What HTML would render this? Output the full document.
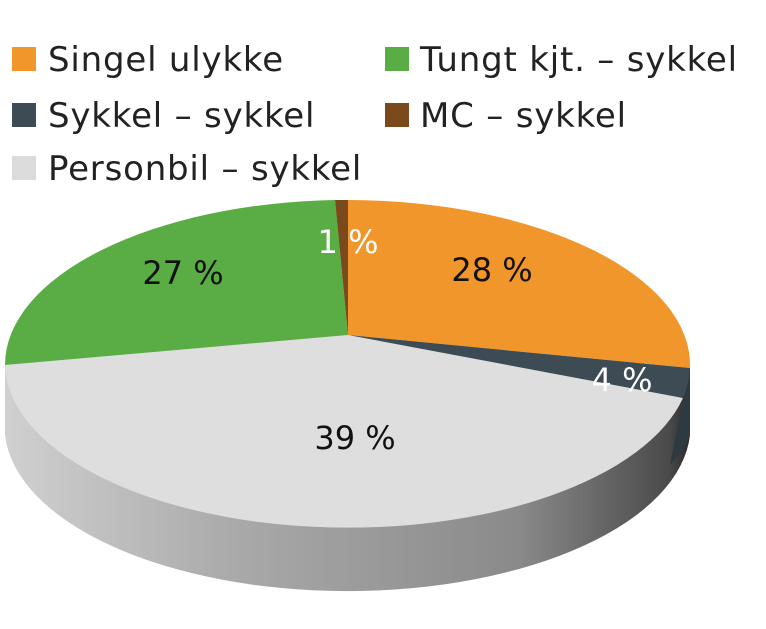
<!DOCTYPE html>
<html><head><meta charset="utf-8"><style>
html,body{margin:0;padding:0;background:#fff;width:766px;height:629px;overflow:hidden}
svg{display:block}
text{font-family:"DejaVu Sans","Liberation Sans",sans-serif}
</style></head><body>
<svg width="766" height="629" viewBox="0 0 766 629">
<defs>
<linearGradient id="side" x1="0" x2="1" y1="0" y2="0">
<stop offset="0" stop-color="#d0d0d0"/>
<stop offset="0.35" stop-color="#a8a8a8"/>
<stop offset="0.75" stop-color="#8a8a8a"/>
<stop offset="0.97" stop-color="#4a4a4a"/>
<stop offset="1" stop-color="#2a2a2a"/>
</linearGradient>
</defs>
<!-- legend -->
<g font-size="34" fill="#222" letter-spacing="0.8">
<rect x="12" y="47" width="24" height="24" fill="#f0962a"/>
<text x="48" y="71">Singel ulykke</text>
<rect x="385" y="47" width="24" height="24" fill="#5aac44"/>
<text x="420" y="71">Tungt kjt. – sykkel</text>
<rect x="12" y="103" width="24" height="24" fill="#3d4b55"/>
<text x="48" y="127">Sykkel – sykkel</text>
<rect x="385" y="103" width="24" height="24" fill="#7a4a1c"/>
<text x="420" y="127">MC – sykkel</text>
<rect x="12" y="156" width="24" height="24" fill="#dcdcdc"/>
<text x="48" y="180">Personbil – sykkel</text>
</g>
<!-- side -->
<path d="M5,365 A343,165 0 0 0 690,365 L690,435 A343,165 0 0 1 5,435 Z" fill="url(#side)"/>
<!-- top slices -->
<path d="M348,335 L683,398 A343,165 0 0 1 5,365 Z" fill="#dedede"/>
<path d="M348,335 L5,365 A343,165 0 0 1 335,200 Z" fill="#5aac44"/>
<path d="M348,335 L335,200 A343,165 0 0 1 348,200 Z" fill="#7a4a1c"/>
<path d="M348,335 L348,200 A343,165 0 0 1 690,368 Z" fill="#f0962a"/>
<path d="M348,335 L690,368 A343,165 0 0 1 683,398 Z" fill="#3d4b55"/>
<path d="M683,398 A343,165 0 0 0 690,368 L690,435 A343,165 0 0 1 670,465 Z" fill="#2e3a42"/>
<!-- labels -->
<text x="183" y="284" font-size="32" fill="#111" text-anchor="middle">27 %</text>
<text x="348" y="253" font-size="32" fill="#fff" text-anchor="middle">1 %</text>
<text x="492" y="281" font-size="32" fill="#111" text-anchor="middle">28 %</text>
<text x="622" y="391" font-size="32" fill="#fff" text-anchor="middle">4 %</text>
<text x="355" y="449" font-size="32" fill="#111" text-anchor="middle">39 %</text>
</svg>
</body></html>
